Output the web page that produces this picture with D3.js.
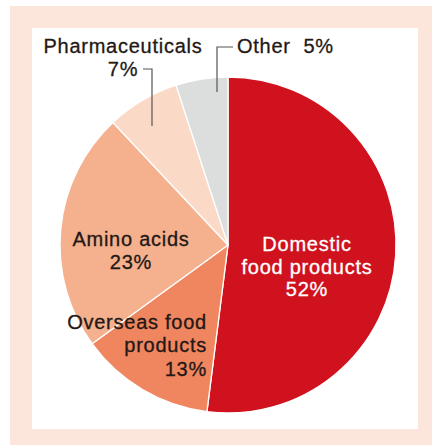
<!DOCTYPE html>
<html>
<head>
<meta charset="utf-8">
<script src="https://cdn.jsdelivr.net/npm/d3@7"></script>
<style>
  html, body { margin: 0; padding: 0; background: #fff; }
  svg { display: block; }
</style>
</head>
<body>
<div id="chart"></div>
<script>
// segment data, clockwise from 12 o'clock
const categories = ["Domestic food products", "Overseas food products", "Amino acids", "Pharmaceuticals", "Other"];
const shares = [52, 13, 23, 7, 5];
const colors = ["#d0121e", "#f0865f", "#f5b08e", "#fad9c7", "#dcdddd"];

// label lines per segment
const labelLines = [
  ["Domestic", "food products", "52%"],
  ["Overseas food", "products", "13%"],
  ["Amino acids", "23%"],
  ["Pharmaceuticals", "7%"],
  ["Other  5%"]
];

const width = 432, height = 445;
const cx = 228, cy = 245, radius = 168;
const textColor = "#231815";

const svg = d3.select("#chart").append("svg")
  .attr("width", width)
  .attr("height", height)
  .attr("font-family", "'Liberation Sans', Arial, Helvetica, sans-serif");

// frame
svg.append("rect").attr("x", 10).attr("y", 6).attr("width", width - 10).attr("height", height - 6).attr("fill", "#fce6dc");
svg.append("rect").attr("x", 32).attr("y", 28).attr("width", 386).attr("height", 401).attr("fill", "#fff");

const data = categories.map((c, i) => ({ name: c, value: shares[i], color: colors[i], lines: labelLines[i] }));

const pie = d3.pie().value(d => d.value).sort(null);
const arc = d3.arc().innerRadius(0).outerRadius(radius);
const arcs = pie(data);

const g = svg.append("g").attr("transform", `translate(${cx},${cy})`);

g.selectAll("path.slice")
  .data(arcs)
  .join("path")
  .attr("class", "slice")
  .attr("d", arc)
  .attr("fill", d => d.data.color)
  .attr("stroke", "#fff")
  .attr("stroke-width", 1.3)
  .attr("stroke-linejoin", "round");

// label placement (layout only)
const labelPos = [
  { x: 307, y: 251, anchor: "middle", fill: "#fff", dy: 22.5 },
  { x: 207, y: 329, anchor: "end", fill: textColor, dy: 23.3 },
  { x: 131, y: 246, anchor: "middle", fill: textColor, dy: 22.6 },
  { x: 123, y: 53.3, anchor: "middle", fill: textColor, dy: 22.4 },
  { x: 237, y: 53.3, anchor: "start", fill: textColor, dy: 22 }
];

arcs.forEach((a, i) => {
  const p = labelPos[i];
  const t = svg.append("text")
    .attr("x", p.x)
    .attr("y", p.y)
    .attr("text-anchor", p.anchor)
    .attr("fill", p.fill)
    .attr("stroke", p.fill)
    .attr("stroke-width", 0.3)
    .attr("font-size", 20)
    .attr("letter-spacing", 0.75)
    .attr("xml:space", "preserve")
    .style("white-space", "pre");
  a.data.lines.forEach((line, j) => {
    t.append("tspan")
      .attr("x", p.x)
      .attr("dy", j === 0 ? 0 : p.dy)
      .text(line);
  });
});

// leader lines
const leaders = [
  [[143, 69], [152, 69], [152, 126]],
  [[233, 47], [217, 47], [217, 92]]
];
svg.selectAll("path.leader")
  .data(leaders)
  .join("path")
  .attr("class", "leader")
  .attr("d", d3.line())
  .attr("fill", "none")
  .attr("stroke", "#555")
  .attr("stroke-width", 1.2);
</script>
</body>
</html>
